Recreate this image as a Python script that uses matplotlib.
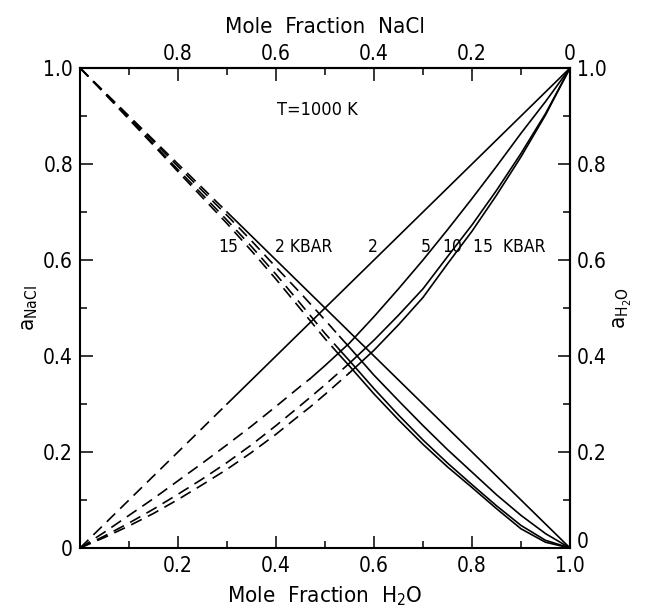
import numpy as np
import matplotlib
matplotlib.use("Agg")
import matplotlib.pyplot as plt
from matplotlib.ticker import MultipleLocator, FixedLocator, FixedFormatter

plt.rcParams['font.family'] = ['DejaVu Sans']
plt.rcParams['font.stretch'] = 'condensed'
plt.rcParams['lines.scale_dashes'] = False

# mole fraction H2O grids (break points for dashed -> solid included)
x_h2o = [0, 0.05, 0.1, 0.15, 0.2, 0.25, 0.3, 0.35, 0.4, 0.45, 0.47, 0.5,
         0.55, 0.6, 0.65, 0.7, 0.75, 0.8, 0.85, 0.9, 0.95, 1.0]
x_nacl = [0, 0.05, 0.1, 0.15, 0.2, 0.25, 0.3, 0.35, 0.4, 0.45, 0.5, 0.53,
          0.55, 0.6, 0.65, 0.7, 0.75, 0.8, 0.85, 0.9, 0.95, 1.0]

# activity of H2O (rising curves), 2 / 5 / 10 / 15 kbar
a_h2o_2 = [0, 0.05, 0.1, 0.15, 0.2, 0.25, 0.3, 0.35, 0.4, 0.45, 0.47, 0.5,
           0.55, 0.6, 0.65, 0.7, 0.75, 0.8, 0.85, 0.9, 0.95, 1.0]
a_h2o_5 = [0, 0.033, 0.068, 0.103, 0.140, 0.177, 0.215, 0.254, 0.295, 0.337, 0.353, 0.380,
           0.427, 0.482, 0.540, 0.600, 0.663, 0.728, 0.795, 0.864, 0.930, 1.0]
a_h2o_10 = [0, 0.025, 0.052, 0.081, 0.112, 0.144, 0.178, 0.215, 0.255, 0.297, 0.314, 0.340,
            0.385, 0.433, 0.485, 0.540, 0.607, 0.673, 0.745, 0.822, 0.905, 1.0]
a_h2o_15 = [0, 0.022, 0.046, 0.072, 0.101, 0.132, 0.164, 0.199, 0.237, 0.278, 0.294, 0.320,
            0.365, 0.412, 0.465, 0.522, 0.592, 0.660, 0.735, 0.815, 0.902, 1.0]

# activity of NaCl (falling curves)
a_nacl_2 = [1.0, 0.95, 0.9, 0.85, 0.8, 0.75, 0.7, 0.65, 0.6, 0.55, 0.5, 0.47,
            0.45, 0.4, 0.35, 0.3, 0.25, 0.2, 0.15, 0.1, 0.05, 0]
a_nacl_5 = [1.0, 0.949, 0.898, 0.847, 0.795, 0.744, 0.693, 0.640, 0.585, 0.531, 0.475, 0.4405,
            0.418, 0.360, 0.307, 0.255, 0.205, 0.158, 0.111, 0.068, 0.030, 0]
a_nacl_10 = [1.0, 0.948, 0.895, 0.842, 0.788, 0.736, 0.683, 0.628, 0.570, 0.509, 0.447, 0.4125,
             0.390, 0.332, 0.277, 0.225, 0.177, 0.132, 0.088, 0.047, 0.016, 0]
a_nacl_15 = [1.0, 0.947, 0.893, 0.839, 0.784, 0.730, 0.676, 0.619, 0.560, 0.498, 0.436, 0.4015,
             0.379, 0.321, 0.267, 0.216, 0.169, 0.126, 0.082, 0.040, 0.012, 0]

# index where each curve turns from dashed to solid
h2o_curves = [(a_h2o_2, 6), (a_h2o_5, 10), (a_h2o_10, 12), (a_h2o_15, 12)]
nacl_curves = [(a_nacl_2, 6), (a_nacl_5, 11), (a_nacl_10, 11), (a_nacl_15, 11)]

fig = plt.figure(figsize=(6.57, 6.11), dpi=100)
ax = fig.add_axes([80/657, 1-548/611, 490/657, 480/611])

lw = 1.2
dash = (8.5, 5)
for xs, curves in [(x_h2o, h2o_curves), (x_nacl, nacl_curves)]:
    for ys, k in curves:
        ax.plot(xs[:k+1], ys[:k+1], color='k', lw=lw, dashes=dash)
        ax.plot(xs[k:], ys[k:], color='k', lw=lw)

ax.set_xlim(0, 1)
ax.set_ylim(0, 1)
for s in ax.spines.values():
    s.set_linewidth(1.5)

ticks = [0, 0.2, 0.4, 0.6, 0.8, 1.0]
ax.xaxis.set_major_locator(FixedLocator(ticks))
ax.xaxis.set_major_formatter(FixedFormatter(['', '0.2', '0.4', '0.6', '0.8', '1.0']))
ax.yaxis.set_major_locator(FixedLocator(ticks))
ax.yaxis.set_major_formatter(FixedFormatter(['0', '0.2', '0.4', '0.6', '0.8', '1.0']))
ax.xaxis.set_minor_locator(MultipleLocator(0.1))
ax.yaxis.set_minor_locator(MultipleLocator(0.1))
ax.tick_params(which='both', direction='in', width=1.1, labelsize=15)
ax.tick_params(which='major', length=9)
ax.tick_params(which='minor', length=5)
ax.tick_params(axis='x', pad=6)
ax.tick_params(axis='y', pad=5)

# top axis: mole fraction NaCl
top = ax.secondary_xaxis('top')
top.xaxis.set_major_locator(FixedLocator(ticks))
top.xaxis.set_major_formatter(FixedFormatter(['', '0.8', '0.6', '0.4', '0.2', '0']))
top.xaxis.set_minor_locator(MultipleLocator(0.1))
top.tick_params(which='both', direction='in', width=1.1, labelsize=15, pad=3)
top.tick_params(which='major', length=9)
top.tick_params(which='minor', length=5)
top.spines['top'].set_linewidth(1.5)
top.set_xlabel('Mole  Fraction  NaCl', fontsize=16, labelpad=8)

right = ax.secondary_yaxis('right')
right.yaxis.set_major_locator(FixedLocator(ticks))
right.yaxis.set_major_formatter(FixedFormatter(['', '0.2', '0.4', '0.6', '0.8', '1.0']))
right.yaxis.set_minor_locator(MultipleLocator(0.1))
right.tick_params(which='both', direction='in', width=1.1, labelsize=15, pad=5)
right.tick_params(which='major', length=9)
right.tick_params(which='minor', length=5)
right.spines['right'].set_linewidth(1.5)
right.set_ylabel('a$_{\\mathrm{H_2O}}$', fontsize=16, labelpad=4)
# right-hand zero sits a little above the corner, clear of the bottom 1.0
ax.annotate('0', xy=(1, 0), xycoords='axes fraction', xytext=(5, 4),
            textcoords='offset points', ha='left', va='center', fontsize=15)

ax.set_xlabel('Mole  Fraction  H$_2$O', fontsize=16, labelpad=6)
ax.set_ylabel('a$_{\\mathrm{NaCl}}$', fontsize=16, labelpad=2)

ax.text(0.484, 0.9125, 'T=1000 K', fontsize=13, ha='center', va='center')
lab_y = 0.627
ax.text(0.302, lab_y, '15', fontsize=12.5, ha='center', va='center')
ax.text(0.398, lab_y, '2 KBAR', fontsize=12.5, ha='left', va='center')
ax.text(0.598, lab_y, '2', fontsize=12.5, ha='center', va='center')
ax.text(0.706, lab_y, '5', fontsize=12.5, ha='center', va='center')
ax.text(0.759, lab_y, '10', fontsize=12.5, ha='center', va='center')
ax.text(0.802, lab_y, '15  KBAR', fontsize=12.5, ha='left', va='center')

fig.savefig('out.png', dpi=100)
